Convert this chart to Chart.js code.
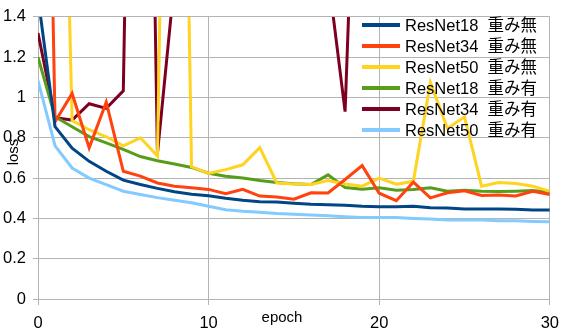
<!DOCTYPE html>
<html>
<head>
<meta charset="utf-8">
<script src="https://cdn.jsdelivr.net/npm/chart.js@4.4.0/dist/chart.umd.min.js"></script>
<style>
  body { margin: 0; background: #fff; }
  #wrap { width: 568px; height: 332px; }
</style>
</head>
<body>
<div id="wrap"><canvas id="chart" width="568" height="332"></canvas></div>
<script>
const epochs = [0, 1, 2, 3, 4, 5, 6, 7, 8, 9, 10, 11, 12, 13, 14, 15, 16, 17, 18, 19, 20, 21, 22, 23, 24, 25, 26, 27, 28, 29, 30];

const labels = ["ResNet18  重み無", "ResNet34  重み無", "ResNet50  重み無", "ResNet18  重み有", "ResNet34  重み有", "ResNet50  重み有"];
const colors = ["#004586", "#ff420e", "#ffd320", "#579d1c", "#7e0021", "#83caff"];

const r18Plain = [1.5, 0.855, 0.748, 0.683, 0.634, 0.59, 0.568, 0.549, 0.532, 0.52, 0.512, 0.5, 0.49, 0.483, 0.481, 0.475, 0.47, 0.468, 0.465, 0.46, 0.458, 0.458, 0.46, 0.453, 0.452, 0.447, 0.447, 0.447, 0.445, 0.442, 0.442];
const r34Plain = [5.3, 0.88, 1.02, 0.75, 0.977, 0.634, 0.61, 0.576, 0.56, 0.552, 0.544, 0.522, 0.544, 0.511, 0.506, 0.495, 0.527, 0.526, 0.593, 0.662, 0.525, 0.488, 0.58, 0.502, 0.527, 0.537, 0.514, 0.516, 0.511, 0.535, 0.519];
const r50Plain = [5.5, 4.3, 0.885, 0.84, 0.805, 0.76, 0.8, 0.71, 5.7, 0.656, 0.623, 0.642, 0.666, 0.751, 0.576, 0.571, 0.568, 0.588, 0.571, 0.56, 0.6, 0.57, 0.584, 1.075, 0.846, 0.904, 0.56, 0.578, 0.573, 0.56, 0.535];
const r18Weights = [1.2, 0.904, 0.855, 0.806, 0.775, 0.743, 0.707, 0.686, 0.67, 0.653, 0.624, 0.609, 0.6, 0.588, 0.578, 0.572, 0.568, 0.616, 0.553, 0.545, 0.552, 0.54, 0.544, 0.552, 0.535, 0.54, 0.535, 0.533, 0.535, 0.538, 0.53];
const r34Weights = [1.32, 0.9, 0.888, 0.969, 0.946, 1.033, 5.8, 0.72, 1.58, 2.4, 3.1, 2.2, 4.0, 2.8, 3.5, 2.1, 2.6, 1.61, 0.93, 3.27, 2.9, 3.6, 2.5, 4.1, 3.0, 2.7, 3.4, 2.3, 2.9, 3.2, 2.6];
const r50Weights = [1.084, 0.76, 0.65, 0.6, 0.568, 0.535, 0.519, 0.503, 0.49, 0.478, 0.46, 0.443, 0.435, 0.43, 0.424, 0.421, 0.417, 0.413, 0.408, 0.404, 0.404, 0.404, 0.4, 0.397, 0.392, 0.392, 0.392, 0.388, 0.388, 0.385, 0.383];

const xTicks = [0, 10, 20, 30];
const yTicks = [0, 0.2, 0.4, 0.6, 0.8, 1, 1.2, 1.4];

const series = [r18Plain, r34Plain, r50Plain, r18Weights, r34Weights, r50Weights];
const font = '"Liberation Sans", "Noto Sans CJK JP", sans-serif';
const grid = "#b3b3b3";

const datasets = series.map((vals, i) => ({
    label: labels[i],
    data: vals.map((v, j) => ({ x: epochs[j], y: v })),
    borderColor: colors[i],
    backgroundColor: colors[i],
    borderWidth: 3,
    pointRadius: 0,
    tension: 0,
    clip: 0
}));

// legend and axis titles drawn over the plot, like the original
const overlay = {
    id: "overlay",
    afterDraw(chart) {
        const ctx = chart.ctx;
        ctx.save();
        ctx.textBaseline = "middle";
        ctx.fillStyle = "#000";
        ctx.font = "16.5px " + font;
        labels.forEach((name, i) => {
            const y = 25 + i * 21;
            ctx.strokeStyle = colors[i];
            ctx.lineWidth = 4;
            ctx.beginPath();
            ctx.moveTo(362, y);
            ctx.lineTo(400, y);
            ctx.stroke();
            ctx.fillText(name, 405, y + 1);
        });
        ctx.font = "15px " + font;
        ctx.textAlign = "center";
        ctx.fillText("epoch", 282, 318);
        ctx.translate(14, 152);
        ctx.rotate(-Math.PI / 2);
        ctx.fillText("loss", 0, 0);
        ctx.restore();
    }
};

new Chart(document.getElementById("chart"), {
    type: "line",
    data: { datasets },
    options: {
        responsive: false,
        animation: false,
        layout: { padding: { top: 14, right: 16, left: 0, bottom: 0 } },
        plugins: { legend: { display: false }, tooltip: { enabled: false } },
        scales: {
            x: {
                type: "linear",
                min: 0, max: 30,
                afterFit: s => { s.height = 33; },
                afterBuildTicks: s => { s.ticks = xTicks.map(v => ({ value: v })); },
                grid: { color: grid, tickLength: 6 },
                border: { color: grid },
                ticks: { color: "#000", font: { family: font, size: 16.5 }, padding: 9, maxRotation: 0 }
            },
            y: {
                min: 0, max: 1.4,
                afterFit: s => { s.width = 38; },
                afterBuildTicks: s => { s.ticks = yTicks.map(v => ({ value: v })); },
                grid: { color: grid, tickLength: 5 },
                border: { color: grid },
                ticks: { color: "#000", font: { family: font, size: 16.5 }, padding: 7, callback: v => String(v) }
            }
        }
    },
    plugins: [overlay]
});
</script>
</body>
</html>
